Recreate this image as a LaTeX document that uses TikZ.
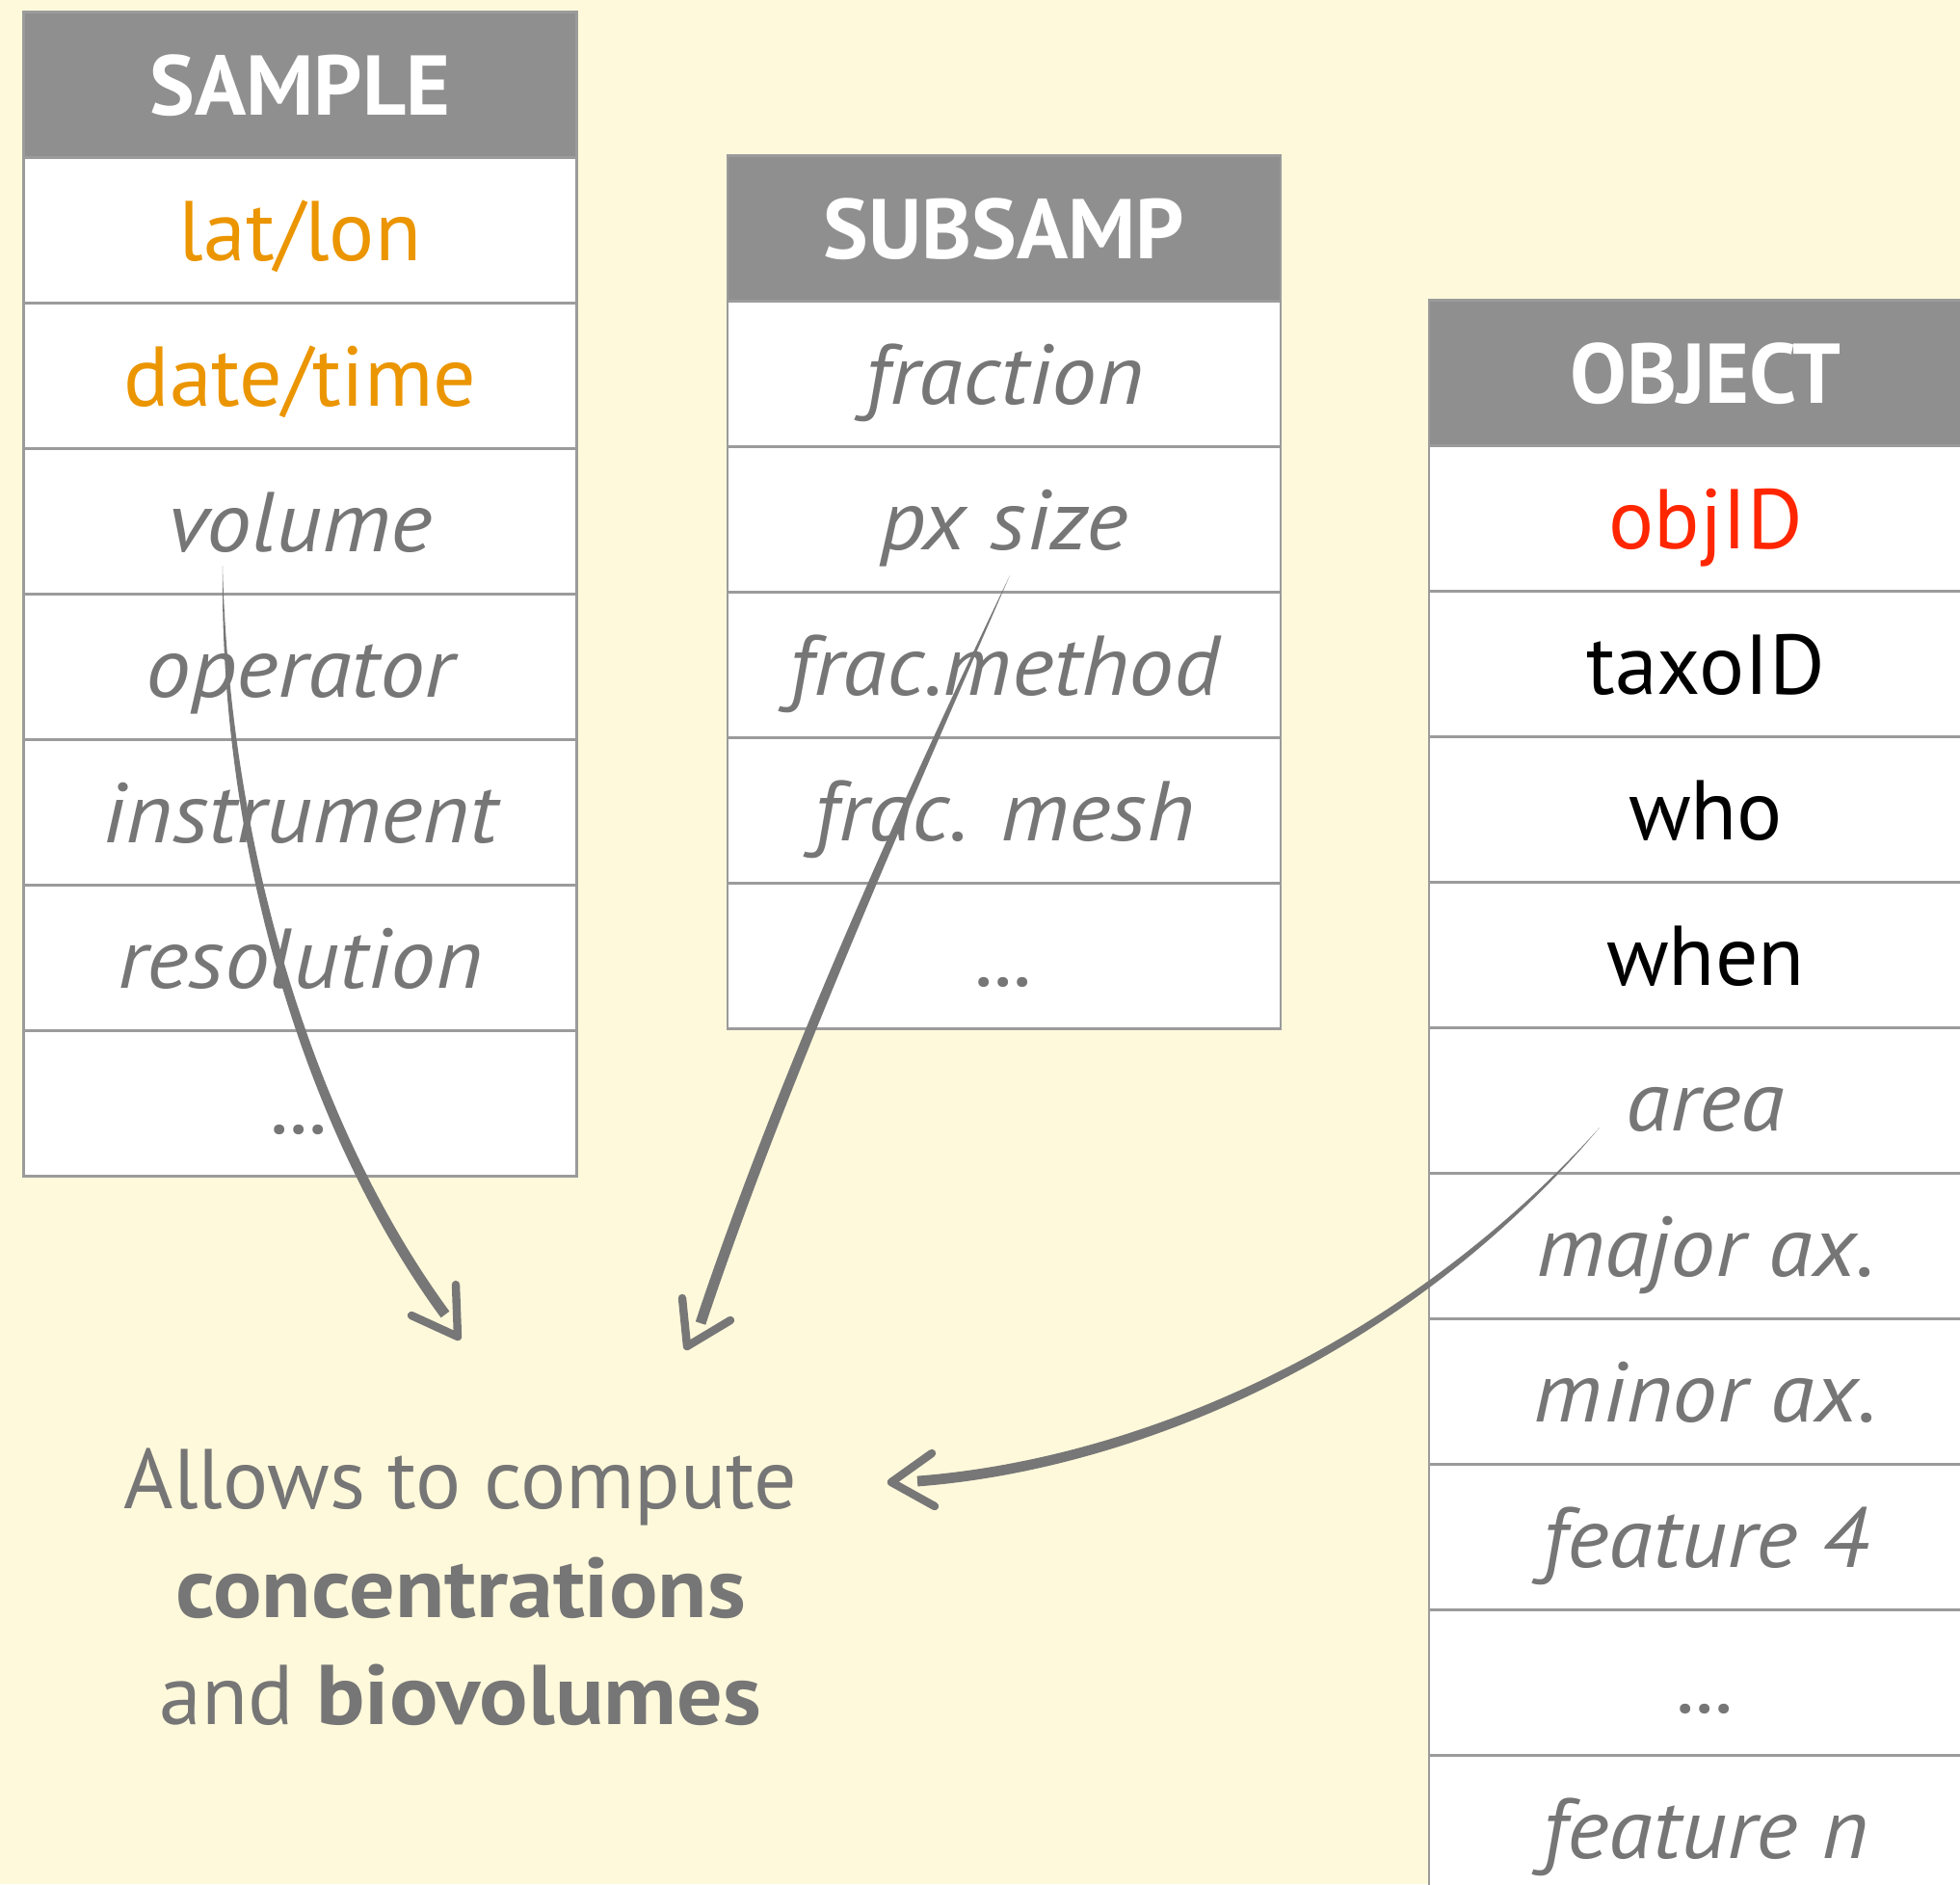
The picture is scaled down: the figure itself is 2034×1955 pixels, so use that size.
\documentclass[tikz,border=0pt]{standalone}
\usepackage{fontspec}
\setmainfont{PT Sans}[ItalicFeatures={FakeStretch=1.06}, BoldFeatures={FakeStretch=1.07}]
\newfontfamily\hdrfamily{PT Sans}
\usetikzlibrary{calc}
\definecolor{bgc}{HTML}{FFF9DB}
\definecolor{hdrgray}{HTML}{8F8F8F}
\definecolor{txtgray}{HTML}{767676}
\definecolor{linegray}{HTML}{9B9B9B}
\definecolor{orangec}{HTML}{EB9500}
\definecolor{redc}{HTML}{FF2600}
\definecolor{arrowgray}{HTML}{777777}
\newcommand\cellfont{\fontsize{44pt}{50pt}\selectfont}
\begin{document}
\begin{tikzpicture}[x=0.5pt,y=-0.5pt,
  cell/.style={draw=linegray, line width=1.25pt, fill=white, minimum width=287pt,
    minimum height=75.5pt, inner sep=0pt, text height=31.5pt, text depth=0pt,
    font=\cellfont, text=txtgray},
  hdr/.style={cell, fill=hdrgray, text=white, font=\cellfont\hdrfamily\bfseries},
  itc/.style={cell, font=\cellfont\itshape},
  brush/.style={fill=arrowgray, draw=none},
  tipline/.style={draw=arrowgray, line width=4.2pt, line cap=round, line join=round},
  note/.style={anchor=base, font=\cellfont, text=txtgray, inner sep=0pt}]
\useasboundingbox (0,0) rectangle (2034,1955);
\clip (0,0) rectangle (2034,1955);
\fill[bgc] (0,0) rectangle (2034,1955);

% SAMPLE table
\node[hdr] (s0) at (311.5,88) {SAMPLE};
\node[cell, text=orangec] (s1) at (311.5,239) {lat/lon};
\node[cell, text=orangec] (s2) at (311.5,390) {date/time};
\node[itc] (s3) at (311.5,541) {volume};
\node[itc] (s4) at (311.5,692) {operator};
\node[itc] (s5) at (311.5,843) {instrument};
\node[itc] (s6) at (311.5,994) {resolution};
\node[itc] (s7) at (311.5,1145) {...};

% SUBSAMP table
\node[hdr] (u0) at (1042,237) {SUBSAMP};
\node[itc] (u1) at (1042,388) {fraction};
\node[itc] (u2) at (1042,539) {px size};
\node[itc] (u3) at (1042,690) {frac.method};
\node[itc] (u4) at (1042,841) {frac. mesh};
\node[itc] (u5) at (1042,992) {...};

% OBJECT table
\node[hdr] (o0) at (1770,387) {OBJECT};
\node[cell, text=redc] (o1) at (1770,538) {objID};
\node[cell, text=black] (o2) at (1770,689) {taxoID};
\node[cell, text=black] (o3) at (1770,840) {who};
\node[cell, text=black] (o4) at (1770,991) {when};
\node[itc] (o5) at (1770,1142) {area};
\node[itc] (o6) at (1770,1293) {major ax.};
\node[itc] (o7) at (1770,1444) {minor ax.};
\node[itc] (o8) at (1770,1595) {feature 4};
\node[itc] (o9) at (1770,1746) {...};
\node[itc] (o10) at (1770,1897) {feature n};

% note
\node[note] (n1) at (478,1565) {Allows to compute};
\node[note, font=\cellfont\bfseries] (n2) at (478,1678) {concentrations};
\node[note] (n3) at (478,1789) {and \textbf{biovolumes}};

% arrow 1: volume -> note
\coordinate (a1s) at (231,587);
\coordinate (a1e) at (462,1364);
\coordinate (a1t) at (475,1387);
\fill[brush] (a1s) .. controls ($(233,890)+(5.5,0)$) and ($(326,1179)+(4.4,-3.3)$) .. ($(a1e)+(4.4,-3.3)$)
  -- ($(a1e)-(4.4,-3.3)$) .. controls ($(326,1179)-(4.4,-3.3)$) and ($(233,890)-(5.5,0)$) .. (a1s) -- cycle;
\draw[tipline] (473,1333) -- (a1t) -- (427,1365);

% arrow 2: px size -> note
\coordinate (a2s) at (1048,597);
\coordinate (a2e) at (727,1373);
\coordinate (a2t) at (713,1397);
\fill[brush] (a2s) .. controls ($(928,859)+(5.0,2.3)$) and ($(806,1136)+(5.2,1.7)$) .. ($(a2e)+(5.2,1.7)$)
  -- ($(a2e)-(5.2,1.7)$) .. controls ($(806,1136)-(5.2,1.7)$) and ($(928,859)-(5.0,2.3)$) .. (a2s) -- cycle;
\draw[tipline] (708,1347) -- (a2t) -- (758,1370);

% arrow 3: area -> note
\coordinate (a3s) at (1660,1170);
\coordinate (a3e) at (952,1537);
\coordinate (a3t) at (925,1538);
\fill[brush] (a3s) .. controls ($(1455,1405)+(4.1,3.6)$) and ($(1175,1520)+(0.4,5.4)$) .. ($(a3e)+(0.4,5.4)$)
  -- ($(a3e)-(0.4,5.4)$) .. controls ($(1175,1520)-(0.4,5.4)$) and ($(1455,1405)-(4.1,3.6)$) .. (a3s) -- cycle;
\draw[tipline] (967,1508) -- (a3t) -- (970,1563);
\end{tikzpicture}
\end{document}
